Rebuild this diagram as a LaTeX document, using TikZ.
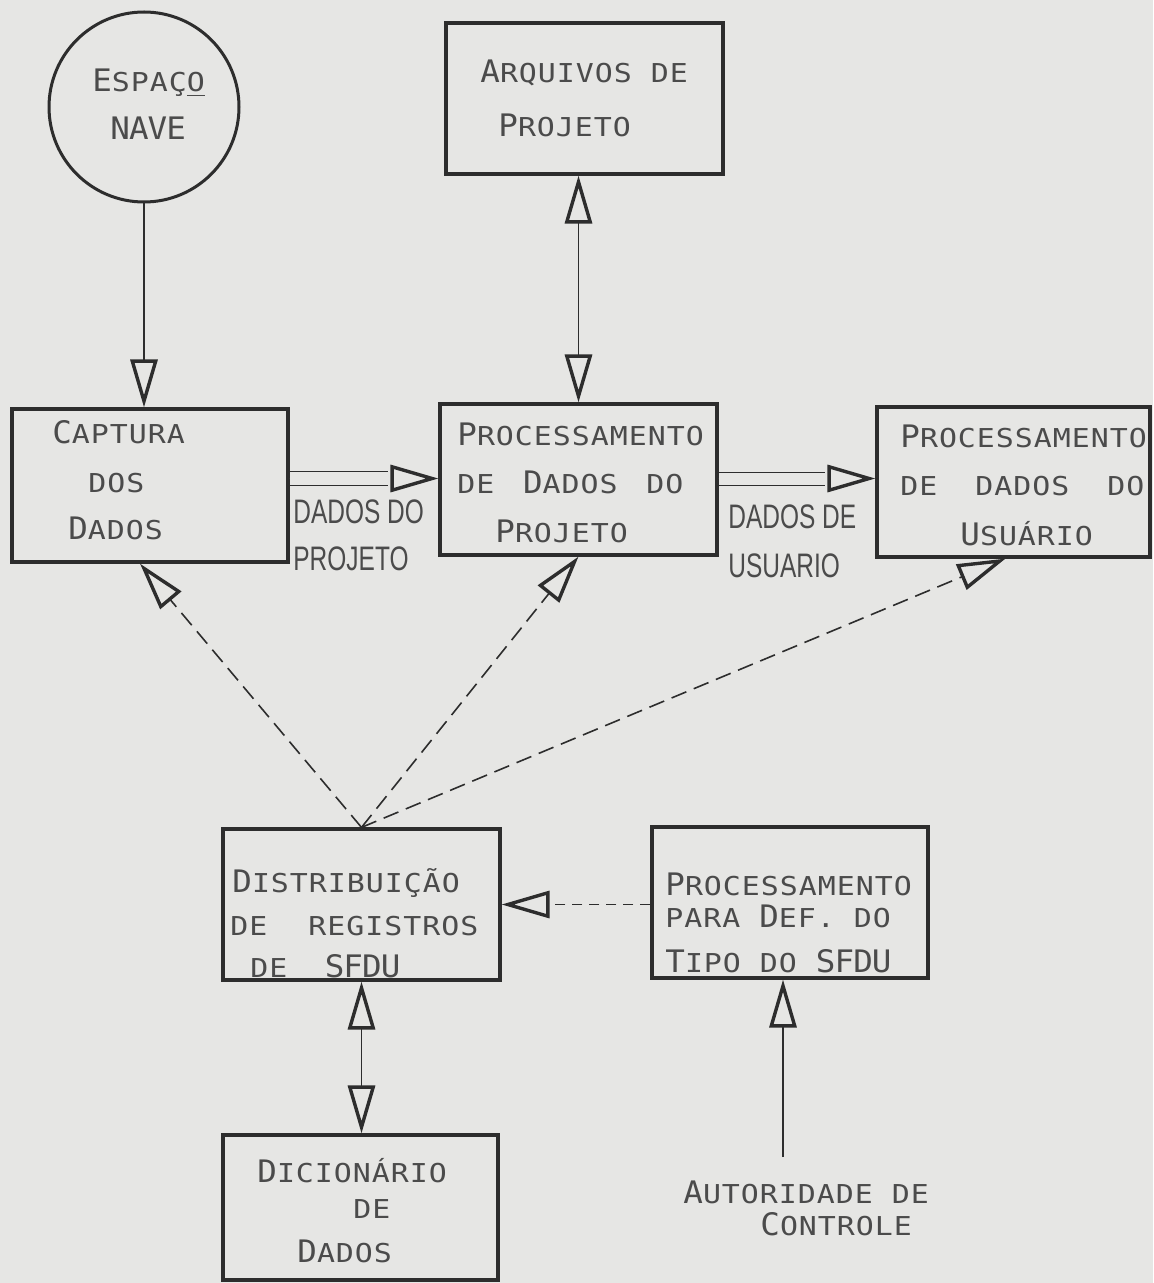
\documentclass[tikz,border=0pt]{standalone}
\usepackage{fontspec}
\usepackage{graphicx}
\usetikzlibrary{arrows.meta,calc}
\newfontfamily\boxfont{DejaVu Sans Mono}[FakeStretch=1.15,LetterSpace=3.8]
\newfontfamily\boxbig{DejaVu Sans Mono}[FakeStretch=1.05,LetterSpace=-3]
\newfontfamily\lblfont{Liberation Sans}
\definecolor{bgc}{RGB}{230,230,228}
\definecolor{linec}{RGB}{45,45,45}
\definecolor{txtc}{RGB}{75,75,75}
\newcommand\bigc[1]{{\boxbig\fontsize{15.5}{18}\selectfont #1}}
\newcommand\lbl[1]{\scalebox{0.72}[1]{\lblfont\fontsize{17}{19}\selectfont #1}}
\tikzset{
  box/.style={draw=linec, line width=1.6pt, rectangle, inner sep=0pt},
  circ/.style={draw=linec, line width=1.5pt, circle, inner sep=0pt},
  bt/.style={text=txtc, inner sep=0pt, anchor=base west, font=\boxfont\fontsize{13}{15}\selectfont},
  lt/.style={text=txtc, inner sep=0pt, anchor=base west},
  conn/.style={draw=linec, line width=0.8pt},
  dsh/.style={conn, dash pattern=on 8pt off 4pt},
  dshb/.style={conn, dash pattern=on 5pt off 3.5pt},
  tipO/.tip={Triangle[open, length=24pt, width=13.5pt, line width=1.7pt, color=linec]}
}
\begin{document}
\begin{tikzpicture}[x=0.5pt,y=-0.5pt]
\useasboundingbox (0,0) rectangle (1153,1283);
\fill[bgc] (0,0) rectangle (1153,1283);

% boxes
\node[circ, minimum size=95pt] (sp) at (144,107) {};
\node[box, minimum width=138.5pt, minimum height=75.5pt] (arq) at (584.5,98.5) {};
\node[box, minimum width=138pt, minimum height=76.5pt] (cap) at (150,485.5) {};
\node[box, minimum width=138.5pt, minimum height=75.5pt] (proc) at (578.5,479.5) {};
\node[box, minimum width=136.5pt, minimum height=75pt] (usr) at (1013.5,482) {};
\node[box, minimum width=138.5pt, minimum height=75.5pt] (dist) at (361.5,904.5) {};
\node[box, minimum width=138pt, minimum height=75.5pt] (pdef) at (790,902.5) {};
\node[box, minimum width=137.5pt, minimum height=72.5pt] (dic) at (360.5,1207.5) {};

% texts
\node[bt] (sp1) at (92,92) {\bigc{E}SPAÇ\underline{O}};
\node[bt] (sp2) at (110,140) {\bigc{NAVE}};

\node[bt] (arq1) at (480,83) {\bigc{A}RQUIVOS DE};
\node[bt] (arq2) at (498,137) {\bigc{P}ROJETO};

\node[bt] (cap1) at (52,443) {\bigc{C}APTURA};
\node[bt] (cap2) at (88,492) {DOS};
\node[bt] (cap3) at (68,539) {\bigc{D}ADOS};

\node[bt] (proc1) at (457,445) {\bigc{P}ROCESSAMENTO};
\node[bt] (proc2) at (457,493) {\makebox[113pt][l]{DE\hfill\bigc{D}ADOS\hfill DO}};
\node[bt] (proc3) at (495,542) {\bigc{P}ROJETO};

\node[bt] (usr1) at (900,447) {\bigc{P}ROCESSAMENTO};
\node[bt] (usr2) at (900,495) {\makebox[122pt][l]{DE\hfill DADOS\hfill DO}};
\node[bt] (usr3) at (960,545) {\bigc{U}SUÁRIO};

\node[bt] (dist1) at (232,892) {\bigc{D}ISTRIBUIÇÃO};
\node[bt] (dist2) at (230,935) {\makebox[124pt][l]{DE\hfill REGISTROS}};
\node[bt] (dist3) at (250,977) {\makebox[75pt][l]{DE\hfill\bigc{SFDU}}};

\node[bt] (pdef1) at (665,895) {\bigc{P}ROCESSAMENTO};
\node[bt] (pdef2) at (665,927) {PARA \bigc{D}EF. DO};
\node[bt] (pdef3) at (665,972) {\bigc{T}IPO DO \bigc{SFDU}};

\node[bt] (dic1) at (257,1182) {\bigc{D}ICIONÁRIO};
\node[bt] (dic2) at (353,1218) {DE};
\node[bt] (dic3) at (297,1262) {\bigc{D}ADOS};

\node[bt] (aut1) at (683,1203) {\bigc{A}UTORIDADE DE};
\node[bt] (aut2) at (760,1235) {\bigc{C}ONTROLE};

\node[lt] (l1a) at (293,523) {\lbl{DADOS DO}};
\node[lt] (l1b) at (293,570) {\lbl{PROJETO}};
\node[lt] (l2a) at (728,528) {\lbl{DADOS DE}};
\node[lt] (l2b) at (728,577) {\lbl{USUARIO}};

% connectors
\draw[conn, -{tipO}] (sp.south) -- (sp.south |- cap.north);
\draw[conn, {tipO}-{tipO}] (proc.north |- arq.south) -- (proc.north);

\draw[conn] ($(cap.east |- proc.west)+(0,-8)$) -- ($(proc.west)+(-50,-8)$);
\draw[conn] ($(cap.east |- proc.west)+(0,6)$) -- ($(proc.west)+(-50,6)$);
\draw[conn, draw=bgc, -{tipO}] ($(cap.east |- proc.west)+(0,-1)$) -- ($(proc.west)+(0,-1)$);

\draw[conn] ($(proc.east)+(0,-7)$) -- ($(proc.east -| usr.west)+(-50,-7)$);
\draw[conn] ($(proc.east)+(0,6)$) -- ($(proc.east -| usr.west)+(-50,6)$);
\draw[conn, draw=bgc, -{tipO}] ($(proc.east)+(0,-1)$) -- ($(proc.east -| usr.west)+(0,-1)$);

\draw[dsh, -{tipO}] (dist.north) -- ($(cap.south)+(-10,0)$);
\draw[dsh, -{tipO}] (dist.north) -- (proc.south);
\draw[dsh, -{tipO}] (dist.north) -- ($(usr.south)+(-8,0)$);
\draw[dshb, -{tipO}] (pdef.west |- dist.east) -- (dist.east);

\draw[conn, {tipO}-{tipO}] (dist.south) -- (dist.south |- dic.north);

\coordinate (pin) at ($(pdef.south)+(-7,0)$);
\coordinate (autarrow) at (783,1157);
\draw[conn, -{tipO}] (autarrow) -- (pin);
\end{tikzpicture}
\end{document}
